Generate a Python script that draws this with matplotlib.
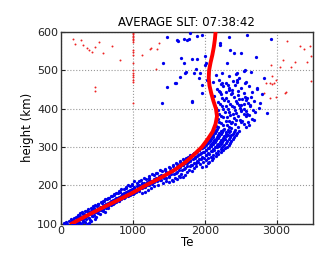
import matplotlib
matplotlib.use("Agg")
import matplotlib.pyplot as plt

# average Te profile (red line)
prof_h = [100, 120, 140, 160, 180, 200, 220, 240, 260, 280, 300, 320, 340, 360,
          380, 400, 420, 440, 460, 480, 500, 520, 540, 560, 580, 600]
prof_te = [150, 350, 560, 780, 990, 1180, 1390, 1580, 1730, 1850, 1960, 2040, 2110, 2150,
           2170, 2155, 2120, 2090, 2065, 2055, 2060, 2080, 2105, 2125, 2140, 2150]

# measured Te (blue dots): (Te, height)
blue_pts = [
    (45, 101), (88, 99), (132, 103), (175, 100), (220, 102), (265, 101), (310, 104), (355, 100), (395, 102),
    (110, 107), (160, 109), (205, 106), (250, 110), (300, 108), (345, 111), (420, 107),
    (180, 114), (235, 116), (280, 113), (330, 118), (385, 115), (440, 119), (470, 113),
    (240, 122), (300, 124), (350, 121), (410, 126), (460, 123), (520, 127),
    (290, 129), (335, 132), (390, 130), (445, 134), (500, 131), (560, 135), (610, 129),
    (380, 137), (430, 139), (480, 136), (540, 141), (590, 138), (650, 142),
    (440, 145), (500, 147), (545, 144), (600, 149), (660, 146), (720, 150),
    (520, 152), (570, 155), (620, 151), (680, 157), (740, 154), (800, 158),
    (590, 160), (640, 163), (700, 159), (750, 165), (810, 161), (880, 166),
    (660, 168), (710, 171), (770, 167), (830, 173), (890, 170), (960, 174),
    (740, 177), (790, 180), (850, 176), (910, 182), (970, 178), (1040, 183), (1120, 179),
    (810, 186), (870, 189), (930, 185), (990, 191), (1060, 187), (1130, 192), (1210, 188),
    (900, 195), (960, 198), (1020, 194), (1090, 200), (1150, 196), (1230, 201), (1300, 197),
    (990, 204), (1060, 207), (1120, 203), (1190, 209), (1260, 205), (1340, 210), (1420, 206), (1500, 208),
    (1110, 213), (1180, 216), (1250, 212), (1320, 218), (1390, 214), (1460, 219), (1540, 215), (1610, 217),
    (1220, 223), (1290, 226), (1360, 222), (1430, 228), (1500, 224), (1570, 229), (1640, 225), (1700, 221),
    (1330, 233), (1400, 236), (1470, 232), (1540, 238), (1610, 234), (1680, 239), (1750, 235),
    (1450, 243), (1520, 246), (1590, 242), (1650, 248), (1720, 244), (1790, 249), (1850, 245),
    (1560, 253), (1620, 256), (1690, 252), (1750, 258), (1810, 254), (1880, 259), (1940, 255), (2010, 251),
    (1650, 263), (1710, 266), (1770, 262), (1830, 268), (1890, 264), (1950, 269), (2020, 265), (2060, 261),
    (1760, 273), (1810, 276), (1860, 272), (1910, 278), (1960, 274), (2020, 279), (2080, 275), (2120, 271),
    (1850, 283), (1890, 286), (1940, 282), (1990, 288), (2040, 284), (2100, 289), (2150, 285), (2190, 281),
    (1920, 293), (1960, 296), (2010, 292), (2060, 298), (2110, 294), (2170, 299), (2220, 295), (2250, 291),
    (1980, 303), (2020, 306), (2070, 302), (2110, 308), (2170, 304), (2220, 309), (2270, 305), (2310, 301),
    (2030, 313), (2070, 316), (2120, 312), (2160, 318), (2210, 314), (2260, 319), (2310, 315), (2350, 311),
    (2070, 323), (2110, 326), (2150, 322), (2200, 328), (2250, 324), (2300, 329), (2350, 325), (2390, 321),
    (2100, 333), (2140, 336), (2190, 332), (2240, 338), (2290, 334), (2340, 339), (2390, 335), (2440, 331),
    (2130, 343), (2170, 346), (2220, 342), (2270, 348), (2320, 344), (2370, 349), (2420, 345), (2470, 341),
    # second pass through the dense band
    (70, 104), (150, 102), (240, 105), (330, 103), (280, 100),
    (140, 112), (220, 111), (310, 112), (400, 110),
    (210, 118), (260, 120), (360, 119), (430, 121), (490, 117),
    (270, 127), (320, 126), (380, 124), (480, 129), (540, 124),
    (360, 134), (420, 133), (470, 131), (530, 136), (580, 132),
    (410, 142), (460, 141), (520, 139), (570, 144), (630, 140),
    (470, 149), (520, 150), (580, 146), (630, 152), (690, 148),
    (550, 156), (600, 158), (650, 154), (710, 160), (770, 156),
    (610, 165), (670, 166), (720, 162), (780, 168), (840, 164),
    (690, 172), (740, 174), (800, 170), (860, 176), (930, 172), (1000, 177),
    (760, 181), (820, 183), (880, 179), (940, 185), (1010, 181), (1080, 186), (1170, 183),
    (840, 190), (900, 192), (960, 188), (1020, 196), (1090, 191), (1170, 195), (1250, 192),
    (930, 200), (990, 202), (1050, 198), (1120, 205), (1190, 200), (1270, 204), (1350, 201),
    (1020, 210), (1090, 211), (1160, 207), (1230, 213), (1300, 209), (1380, 214), (1460, 211), (1560, 212),
    (1150, 219), (1220, 220), (1290, 217), (1360, 224), (1430, 219), (1500, 222), (1580, 220), (1660, 222),
    (1260, 229), (1320, 231), (1390, 227), (1460, 234), (1530, 229), (1600, 233), (1670, 230), (1730, 228),
    (1380, 239), (1440, 241), (1510, 237), (1570, 243), (1640, 239), (1710, 242), (1780, 240), (1820, 238),
    (1500, 248), (1560, 251), (1620, 247), (1690, 253), (1750, 249), (1820, 252), (1880, 250), (1960, 248),
    (1600, 258), (1660, 261), (1720, 257), (1790, 263), (1850, 259), (1910, 262), (1980, 260), (2040, 257),
    (1690, 268), (1740, 271), (1800, 267), (1860, 273), (1920, 269), (1990, 272), (2050, 270), (2100, 266),
    (1800, 278), (1840, 281), (1890, 277), (1950, 283), (2010, 279), (2060, 282), (2120, 280), (2160, 276),
    (1880, 288), (1920, 291), (1970, 287), (2020, 293), (2080, 289), (2130, 292), (2190, 290), (2220, 286),
    (1950, 298), (1990, 301), (2040, 297), (2090, 303), (2140, 299), (2200, 302), (2240, 300), (2280, 296),
    (2010, 308), (2040, 311), (2090, 307), (2140, 313), (2190, 309), (2240, 312), (2290, 310), (2330, 306),
    (2050, 318), (2090, 321), (2130, 317), (2180, 323), (2230, 319), (2280, 322), (2330, 320), (2370, 316),
    (2090, 328), (2120, 331), (2170, 327), (2220, 333), (2270, 329), (2320, 332), (2370, 330), (2410, 326),
    (2110, 338), (2150, 341), (2200, 337), (2250, 343), (2300, 339), (2350, 342), (2400, 340), (2450, 336),
    # cloud above 350 km
    (2150, 355), (2230, 362), (2310, 358), (2380, 366), (2460, 353), (2540, 361), (2610, 357),
    (2180, 372), (2260, 378), (2330, 369), (2410, 375), (2490, 371), (2570, 380), (2650, 374),
    (2200, 386), (2280, 392), (2350, 383), (2430, 389), (2510, 395), (2590, 387), (2700, 391),
    (2160, 401), (2240, 407), (2320, 398), (2400, 404), (2470, 410), (2550, 399), (2630, 406), (2760, 402),
    (2190, 416), (2270, 422), (2350, 413), (2430, 419), (2520, 425), (2600, 415), (2690, 421),
    (2130, 433), (2220, 437), (2300, 429), (2380, 441), (2460, 435), (2560, 430), (2650, 444), (2790, 438),
    (2170, 452), (2260, 458), (2340, 449), (2420, 462), (2510, 455), (2610, 460), (2720, 451),
    (2120, 470), (2200, 476), (2290, 467), (2390, 473), (2480, 480), (2580, 469),
    (2150, 488), (2240, 494), (2330, 485), (2430, 491), (2540, 497),
    (2180, 352), (2260, 357), (2340, 351), (2420, 360), (2500, 364), (2580, 352),
    (2200, 366), (2290, 368), (2360, 362), (2440, 370), (2520, 367), (2600, 364),
    (2230, 381), (2310, 377), (2390, 385), (2460, 380), (2540, 386), (2620, 383),
    (2190, 396), (2260, 399), (2340, 391), (2420, 397), (2490, 402), (2570, 394), (2670, 397),
    (2210, 411), (2300, 408), (2380, 406), (2450, 414), (2540, 412), (2630, 410),
    (2240, 427), (2320, 421), (2400, 431), (2480, 424), (2580, 422),
    (2200, 445), (2290, 443), (2360, 439), (2460, 446), (2540, 441),
    (2230, 464), (2320, 461), (2450, 470), (2560, 466),
    (1474, 586), (1790, 598), (1892, 590), (1962, 592), (1706, 581), (1418, 520), (1669, 531),
    (1822, 529), (2008, 537), (1743, 496), (1845, 492), (1915, 479), (1590, 466), (1474, 456),
    (1962, 462), (1822, 418), (1404, 414), (2333, 588), (2590, 592), (2218, 566), (2403, 544),
    (2497, 544), (2310, 518), (2566, 501), (2636, 496), (2822, 479), (2450, 492), (2241, 466),
    (2380, 449), (2636, 431), (2775, 414), (2869, 388), (2497, 396), (2682, 370),
    (1613, 579), (2915, 582), (2218, 570), (1706, 518), (1660, 483), (1939, 492), (2008, 514),
    (2032, 475), (1962, 440), (2357, 553), (2706, 536), (2450, 475), (2333, 453), (2218, 444),
    (2729, 453), (2590, 427), (2497, 409), (1622, 577), (1776, 581), (1604, 466), (1729, 494),
    (1874, 503), (1892, 529), (2022, 518), (1753, 579), (1822, 420),
]
blue_te = [p[0] for p in blue_pts]
blue_h = [p[1] for p in blue_pts]

# rejected / outlier values (red dots)
red_pts = [
    (172, 582), (195, 569), (274, 578), (302, 567), (358, 558), (395, 554), (428, 548),
    (474, 561), (530, 573), (590, 544), (707, 563), (827, 526), (474, 456), (474, 447),
    (995, 598), (995, 594), (995, 590), (995, 586), (995, 582), (995, 578), (995, 575),
    (995, 553), (995, 547), (995, 540), (995, 520), (995, 500), (995, 494), (995, 488),
    (995, 482), (995, 476), (995, 470), (995, 415),
    (1125, 541), (1255, 557), (1241, 556), (1334, 555), (1357, 570), (1320, 503),
    (3147, 577), (3324, 563), (3380, 556), (3464, 563), (3482, 537), (3092, 527), (3254, 521),
    (3045, 508), (3194, 508), (2915, 513), (3473, 473), (2938, 485), (2845, 466), (2905, 466),
    (2938, 463), (2822, 442), (2901, 427), (2985, 431), (3115, 442), (2961, 466), (3124, 444),
    (3417, 522), (2990, 475),
]
red_te = [p[0] for p in red_pts]
red_h = [p[1] for p in red_pts]

fig = plt.figure(figsize=(3.18, 2.6), dpi=100)
ax = fig.add_axes([0.192, 0.140, 0.791, 0.737])

ax.scatter(red_te, red_h, s=2.0, c='#ee2222', linewidths=0, zorder=2)
ax.scatter(blue_te, blue_h, s=5.5, c='#0000ee', linewidths=0, zorder=3)
ax.plot(prof_te, prof_h, color='#ff0000', lw=2.8, zorder=4)

ax.set_xlim(0, 3500)
ax.set_ylim(100, 600)
ax.set_xticks([0, 1000, 2000, 3000])
ax.set_yticks([100, 200, 300, 400, 500, 600])
ax.grid(True, linestyle=':', color='#999999', lw=0.8)
ax.tick_params(direction='in', labelsize=8, length=3, pad=2, colors='#222222')
for s in ax.spines.values():
    s.set_linewidth(1.0)
    s.set_color('#333333')

ax.set_xlabel('Te', fontsize=8.5, labelpad=0)
ax.set_ylabel('height (km)', fontsize=8.5, labelpad=2)
ax.set_title('AVERAGE SLT: 07:38:42', fontsize=8.5, pad=4)

fig.savefig('out.png', dpi=100)
